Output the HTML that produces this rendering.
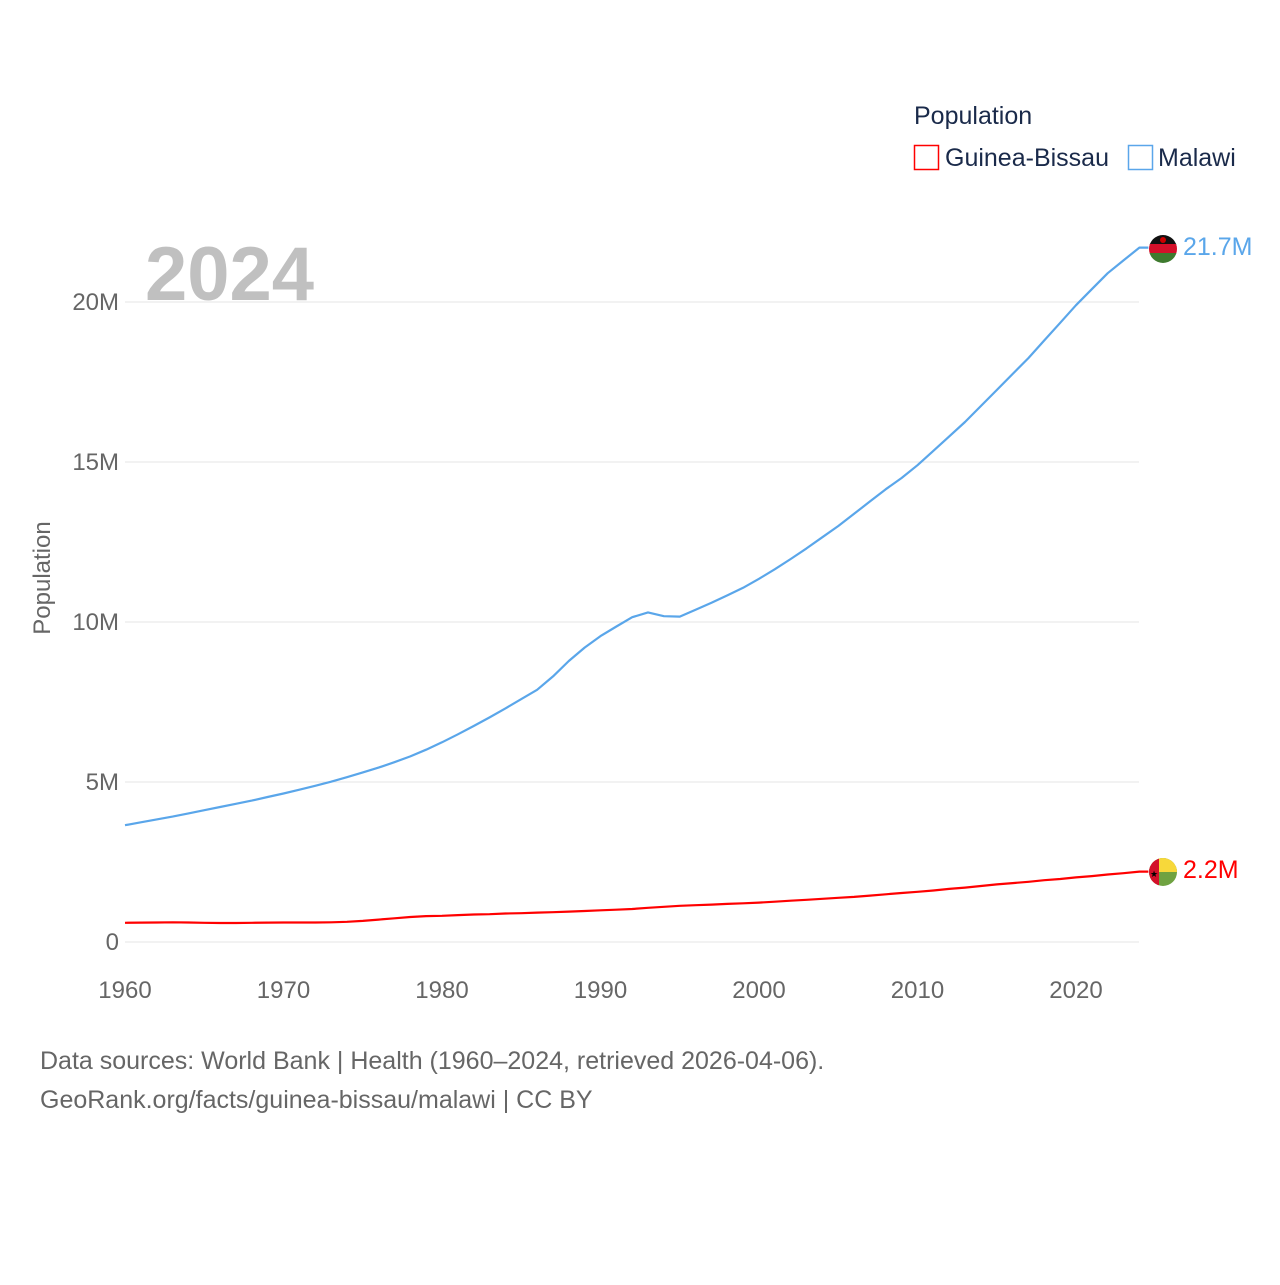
<!DOCTYPE html>
<html><head><meta charset="utf-8"><style>
body{margin:0;background:#fff;font-family:"Liberation Sans",sans-serif}
svg text{font-family:"Liberation Sans",sans-serif}
</style></head><body>
<svg id="chart" width="1280" height="1280" viewBox="0 0 1280 1280">
<defs>
<clipPath id="c1"><circle cx="1163" cy="249" r="14"/></clipPath>
<clipPath id="c2"><circle cx="1163" cy="872" r="14"/></clipPath>
</defs>
<g id="grid"></g>
<g id="axes"></g>
<text x="145" y="300" font-size="76" font-weight="bold" fill="#c0c0c0">2024</text>
<text transform="translate(50,578) rotate(-90)" text-anchor="middle" font-size="24" fill="#666">Population</text>
<g id="series"></g>
<g>
<text x="914" y="124" font-size="25" fill="#1a2a4a">Population</text>
<g>
<rect x="914.5" y="145.5" width="24" height="24" fill="none" stroke="#f00" stroke-width="1.5"/>
<text x="945" y="166" font-size="25" fill="#1a2a4a">Guinea-Bissau</text></g>
<g>
<rect x="1128.5" y="145.5" width="24" height="24" fill="none" stroke="#5aa6ea" stroke-width="1.5"/>
<text x="1158" y="166" font-size="25" fill="#1a2a4a">Malawi</text></g>
</g>
<g clip-path="url(#c1)">
<rect x="1149" y="235" width="28" height="10" fill="#111"/>
<rect x="1149" y="244" width="28" height="10" fill="#d4102a"/>
<rect x="1149" y="253" width="28" height="10" fill="#3e7a2e"/>
<circle cx="1163" cy="240" r="3" fill="#c00"/>
</g>
<g clip-path="url(#c2)">
<rect x="1149" y="858" width="28" height="28" fill="#6fa241"/>
<rect x="1158" y="858" width="19" height="14" fill="#f7d83a"/>
<rect x="1149" y="858" width="10" height="28" fill="#d4102a"/>
<text x="1154" y="877" font-size="9" text-anchor="middle" fill="#000">★</text>
</g>
<text x="1183" y="255" font-size="25" fill="#5aa6ea">21.7M</text>
<text x="1183" y="878" font-size="25" fill="#f00">2.2M</text>
<text x="40" y="1069" font-size="25" fill="#666">Data sources: World Bank | Health (1960–2024, retrieved 2026-04-06).</text>
<text x="40" y="1108" font-size="25" fill="#666">GeoRank.org/facts/guinea-bissau/malawi | CC BY</text>
</svg>
<script>
const startYear = 1960;
const malawi = [3.65,3.74,3.83,3.92,4.02,4.12,4.22,4.32,4.42,4.53,4.64,4.76,4.88,5.01,5.15,5.30,5.45,5.62,5.80,6.01,6.24,6.49,6.75,7.02,7.30,7.59,7.88,8.30,8.78,9.20,9.56,9.86,10.15,10.30,10.18,10.17,10.38,10.60,10.83,11.07,11.35,11.65,11.97,12.30,12.65,13.00,13.38,13.77,14.15,14.50,14.90,15.35,15.80,16.25,16.75,17.25,17.75,18.25,18.80,19.35,19.90,20.40,20.90,21.30,21.70];
const guineaBissau = [0.60,0.605,0.61,0.615,0.61,0.60,0.595,0.595,0.60,0.605,0.61,0.61,0.61,0.615,0.63,0.66,0.70,0.74,0.78,0.81,0.82,0.84,0.86,0.87,0.89,0.90,0.92,0.93,0.95,0.97,0.99,1.01,1.03,1.07,1.10,1.13,1.15,1.17,1.19,1.21,1.23,1.26,1.29,1.32,1.35,1.38,1.41,1.45,1.49,1.53,1.57,1.61,1.66,1.70,1.75,1.80,1.84,1.88,1.93,1.97,2.02,2.06,2.11,2.15,2.20];
const yTicks = [0,5,10,15,20];
const yTickLabels = ["0","5M","10M","15M","20M"];
const xTicks = [1960,1970,1980,1990,2000,2010,2020];
const NS="http://www.w3.org/2000/svg";
const x = yr => 125 + (yr-1960)*(1076-125)/60;
const y = v => 942 - v*32;
function mk(tag, attrs, parent){const e=document.createElementNS(NS,tag);for(const k in attrs)e.setAttribute(k,attrs[k]);parent.appendChild(e);return e;}
const grid=document.getElementById('grid'), axes=document.getElementById('axes'), series=document.getElementById('series');
yTicks.forEach((t,i)=>{
  const l=mk('line',{x1:125,x2:1139,y1:y(t),y2:y(t),stroke:'#e6e6e6','stroke-width':1},grid);
  
  
  const tx=mk('text',{x:119,y:y(t)+8,'text-anchor':'end','font-size':24,fill:'#666'},axes);
  tx.textContent=yTickLabels[i];
  
  
});
xTicks.forEach(t=>{
  const tx=mk('text',{x:x(t),y:998,'text-anchor':'middle','font-size':24,fill:'#666'},axes);
  tx.textContent=t;
  
  
});
function line(vals,color,name){
  const pts=vals.map((v,i)=>x(startYear+i).toFixed(1)+','+y(v).toFixed(1));
  const last=vals[vals.length-1];
  pts.push((x(startYear+vals.length-1)+9).toFixed(1)+','+y(last).toFixed(1));
  const p=mk('polyline',{points:pts.join(' '),fill:'none',stroke:color,'stroke-width':2.2,'stroke-linejoin':'round'},series);
  
  
}
line(malawi,'#5aa6ea','malawi-line');
line(guineaBissau,'#ff0000','guinea-bissau-line');
</script>
</body></html>
